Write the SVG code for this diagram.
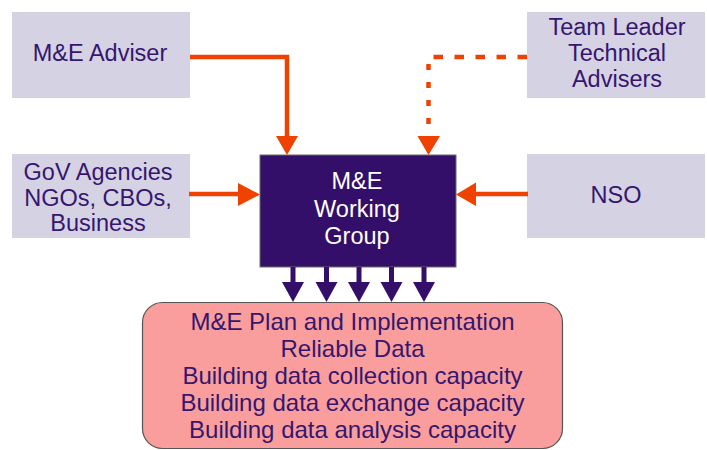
<svg xmlns="http://www.w3.org/2000/svg" width="707" height="450" viewBox="0 0 707 450">
<style>
.box{fill:#d5d2e3;}
.t{font-family:"Liberation Sans",Arial,sans-serif;font-size:23.5px;fill:#36166f;text-anchor:middle;}
.tb{font-size:24px;}
.tw{font-family:"Liberation Sans",Arial,sans-serif;font-size:23.5px;fill:#ffffff;text-anchor:middle;}
.or{stroke:#ef4100;stroke-width:4.5;fill:none;}
.orh{fill:#ef4100;}
.pu{fill:#330f6a;}
</style>
<rect width="707" height="450" fill="#ffffff"/>
<g id="me-adviser">
<rect class="box" x="12" y="12" width="178" height="86"/>
<text class="t" x="100" y="61">M&amp;E Adviser</text>
</g>
<g id="team-leader">
<rect class="box" x="527" y="12" width="178" height="86"/>
<text class="t" x="617" y="35">Team Leader</text>
<text class="t" x="617" y="61">Technical</text>
<text class="t" x="617" y="87">Advisers</text>
</g>
<g id="gov-agencies">
<rect class="box" x="12" y="154" width="178" height="84"/>
<text class="t" x="98" y="180">GoV Agencies</text>
<text class="t" x="98" y="205.5">NGOs, CBOs,</text>
<text class="t" x="98" y="231">Business</text>
</g>
<g id="nso">
<rect class="box" x="527" y="154" width="178" height="84"/>
<text class="t" x="616" y="203">NSO</text>
</g>
<g id="working-group">
<rect x="260" y="155" width="196" height="112" fill="#330f6a" stroke="#6b6b6b" stroke-width="1"/>
<text class="tw" x="357" y="189">M&amp;E</text>
<text class="tw" x="357" y="217">Working</text>
<text class="tw" x="357" y="244">Group</text>
</g>
<g id="plan">
<rect x="142.5" y="302.5" width="420" height="146" rx="20" ry="20" fill="#f99e9c" stroke="#555555" stroke-width="1.2"/>
<text class="t tb" x="352.5" y="330">M&amp;E Plan and Implementation</text>
<text class="t tb" x="352.5" y="357">Reliable Data</text>
<text class="t tb" x="352.5" y="384">Building data collection capacity</text>
<text class="t tb" x="352.5" y="411">Building data exchange capacity</text>
<text class="t tb" x="352.5" y="438">Building data analysis capacity</text>
</g>
<g id="connectors">
<path class="or" d="M190,57 H287 V137"/>
<polygon class="orh" points="276,136 298,136 287,155"/>
<path class="or" d="M527,57 H433" stroke-dasharray="9.5,11.5"/>
<path class="or" d="M428.5,64 V137" stroke-dasharray="6,12"/>
<polygon class="orh" points="417.5,136 440,136 428.5,155"/>
<path class="or" d="M189,194 H240" stroke-width="5"/>
<polygon class="orh" points="238,183 238,206 260,194.5"/>
<path class="or" d="M528,194 H474" stroke-width="5"/>
<polygon class="orh" points="476,182.5 476,206 456,194.5"/>
<g class="pu">
<rect x="290.5" y="267" width="5" height="16"/>
<polygon points="282,282 304,282 293,302"/>
<rect x="324" y="267" width="5" height="16"/>
<polygon points="315.5,282 337.5,282 326.5,302"/>
<rect x="356.5" y="267" width="5" height="16"/>
<polygon points="348,282 370,282 359,302"/>
<rect x="389" y="267" width="5" height="16"/>
<polygon points="380.5,282 402.5,282 391.5,302"/>
<rect x="421.5" y="267" width="5" height="16"/>
<polygon points="413,282 435,282 424,302"/>
</g>
</g>
</svg>
